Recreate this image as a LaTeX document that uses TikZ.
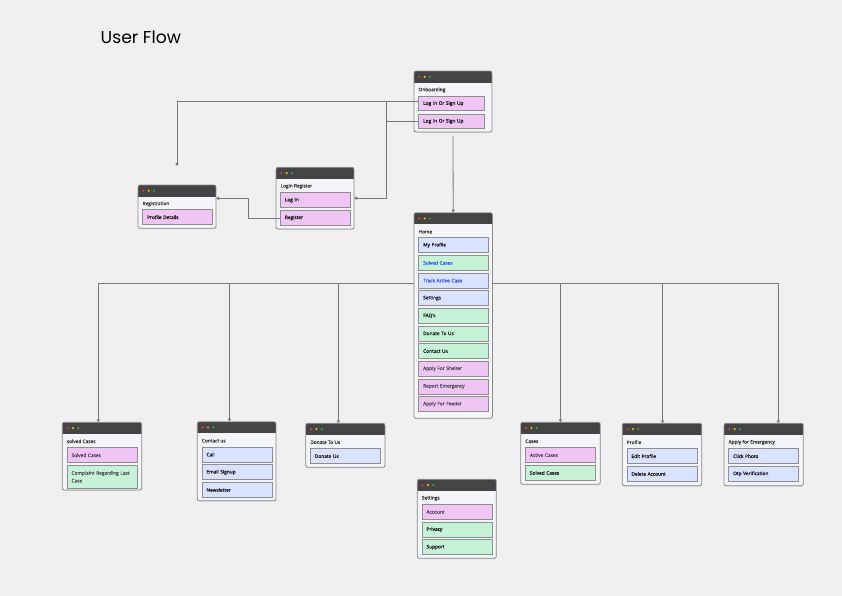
\documentclass[tikz,border=0pt]{standalone}
\usepackage{fontspec}
\setmainfont{Open Sans}
\newfontfamily\headfont{Poppins}
\newfontfamily\lightfont[FakeBold=0.25]{Open Sans}
\newfontfamily\medfont[FakeBold=0.5]{Open Sans}
\newfontfamily\semifont[FakeBold=1.3]{Open Sans}
\usetikzlibrary{arrows.meta,shadows}

\definecolor{canvas}{HTML}{F0F0F0}
\definecolor{winfill}{HTML}{F4F5F8}
\definecolor{winedge}{HTML}{8A8A8A}
\definecolor{hdrcol}{HTML}{444444}
\definecolor{dotred}{HTML}{E5383B}
\definecolor{dotyel}{HTML}{F2B705}
\definecolor{dotgrn}{HTML}{2EA84E}
\definecolor{itemedge}{HTML}{8E8E8E}
\definecolor{fillpu}{HTML}{EFC5F4}
\definecolor{fillgr}{HTML}{C6F3D7}
\definecolor{fillbl}{HTML}{D9E2FE}
\definecolor{txtdark}{HTML}{1C1C1C}
\definecolor{txttitle}{HTML}{333333}
\definecolor{txtblue}{HTML}{3653EC}
\definecolor{txtgray}{HTML}{4F4858}
\definecolor{wirecol}{HTML}{777777}

\tikzset{
  winbody/.style={anchor=north west, fill=winfill, inner sep=0pt, outer sep=0pt,
    rounded corners=2pt, drop shadow={shadow xshift=0pt, shadow yshift=-0.9pt, opacity=0.22}},
  winframe/.style={draw=winedge, line width=0.8pt, rounded corners=2pt},
  wintitle/.style={anchor=west, inner sep=0pt, text=txttitle,
    font=\medfont\fontsize{4.8}{5.5}\selectfont},
  item/.style={anchor=north west, draw=itemedge, line width=0.8pt, minimum height=15pt,
    text width=61pt, inner xsep=4.5pt, inner ysep=0pt, align=left,
    font=\medfont\fontsize{4.8}{7.7}\selectfont},
  narrow/.style={text width=57pt, minimum height=14.5pt},
  pu/.style={fill=fillpu}, gr/.style={fill=fillgr}, bl/.style={fill=fillbl},
  tb/.style={text=txtdark, font=\semifont\fontsize{4.8}{7.7}\selectfont},
  tm/.style={text=txtdark},
  tblue/.style={text=txtblue, font=\lightfont\fontsize{4.8}{7.7}\selectfont},
  tgray/.style={text=txtgray, font=\lightfont\fontsize{4.8}{7.7}\selectfont},
  wire/.style={draw=wirecol, line width=0.8pt},
  conn/.style={wire, -{Triangle[length=3pt,width=3.2pt]}},
}

% window: name, x, y, width, height, title
\newcommand\uiwin[6]{%
  \node[winbody, minimum width=#4pt, minimum height=#5pt] (#1) at (#2,#3) {};
  \begin{scope}
    \clip[rounded corners=2pt] (#1.north west) rectangle (#1.south east);
    \fill[hdrcol] (#1.north west) rectangle ([yshift=-11.6pt]#1.north east);
  \end{scope}
  \draw[winframe] (#1.north west) rectangle (#1.south east);
  \fill[dotred] ([xshift=5.3pt,yshift=-5.8pt]#1.north west) circle (1.2pt);
  \fill[dotyel] ([xshift=10.7pt,yshift=-5.8pt]#1.north west) circle (1.2pt);
  \fill[dotgrn] ([xshift=16pt,yshift=-5.8pt]#1.north west) circle (1.2pt);
  \node[wintitle] (#1-t) at ([xshift=4.4pt,yshift=-19pt]#1.north west) {#6};
}
% item: name, x, y, styles, text
\newcommand\uiitem[5]{\node[item,#4] (#1) at (#2,#3) {#5};}

\begin{document}
\begin{tikzpicture}[x=1pt,y=-1pt]
\useasboundingbox (0,0) rectangle (842,596);
\fill[canvas] (0,0) rectangle (842,596);

\node[anchor=west, inner sep=0pt, text=black, font=\headfont\fontsize{17.2}{20}\selectfont] (ttl) at (100.5,37) {User Flow};

% onboarding
\uiwin{onb}{414}{71}{78}{61}{Onboarding}
\uiitem{o1}{418.3}{96}{narrow,pu,tb}{Log In Or Sign Up}
\uiitem{o2}{418.3}{113.7}{narrow,pu,tb}{Log In Or Sign Up}

% login / register
\uiwin{login}{276}{167.3}{78}{61.7}{Login Register}
\uiitem{l1}{280}{192.3}{pu,tb}{Log In}
\uiitem{l2}{280}{210}{pu,tb}{Register}

\uiwin{reg}{138}{185}{78}{43.3}{Registration}
\uiitem{r1}{142.3}{209.3}{pu,tb}{Profile Details}

% home
\uiwin{home}{414}{212.7}{78.4}{205.6}{Home}
\uiitem{h0}{418.3}{237.3}{bl,tm}{My Profile}
\uiitem{h1}{418.3}{254.95}{gr,tblue}{Solved Cases}
\uiitem{h2}{418.3}{272.6}{bl,tblue}{Track Active Case}
\uiitem{h3}{418.3}{290.25}{bl,tm}{Settings}
\uiitem{h4}{418.3}{307.9}{gr,tm}{FAQ's}
\uiitem{h5}{418.3}{325.55}{gr,tm}{Donate To Us}
\uiitem{h6}{418.3}{343.2}{gr,tm}{Contact Us}
\uiitem{h7}{418.3}{360.85}{pu,tgray}{Apply For Shelter}
\uiitem{h8}{418.3}{378.5}{pu,tgray}{Report Emergency}
\uiitem{h9}{418.3}{396.15}{pu,tgray}{Apply For Feeder}

% lower row
\uiwin{solved}{62.3}{422.3}{79.4}{67.7}{solved Cases}
\uiitem{s1}{66.6}{447.3}{pu,tgray}{Solved Cases}
\uiitem{s2}{66.6}{465}{gr,tgray,minimum height=22.7pt}{Complaint Regarding Last Case}

\uiwin{contact}{197.3}{421.7}{78.7}{79}{Contact us}
\uiitem{c1}{201.6}{446.7}{bl,tb}{Call}
\uiitem{c2}{201.6}{464.3}{bl,tb}{Email Signup}
\uiitem{c3}{201.6}{482}{bl,tb}{Newsletter}

\uiwin{donate}{305.7}{423.3}{79.3}{44}{Donate To Us}
\uiitem{d1}{310}{448.3}{bl,tm}{Donate Us}

\uiwin{settings}{417.3}{479.3}{79}{79}{Settings}
\uiitem{t1}{421.6}{504}{pu,tgray}{Account}
\uiitem{t2}{421.6}{521.7}{gr,tb}{Privacy}
\uiitem{t3}{421.6}{539.3}{gr,tb}{Support}

\uiwin{cases}{520.7}{422.3}{79.6}{62}{Cases}
\uiitem{k1}{525}{447.3}{pu,tgray}{Active Cases}
\uiitem{k2}{525}{465}{gr,tm}{Solved Cases}

\uiwin{profile}{622.3}{423.3}{79.4}{62.4}{Profile}
\uiitem{p1}{626.6}{448.3}{bl,tb}{Edit Profile}
\uiitem{p2}{626.6}{466}{bl,tb}{Delete Account}

\uiwin{emerg}{724}{423.3}{79.3}{62.4}{Apply for Emergency}
\uiitem{e1}{728.3}{448.3}{bl,tb}{Click Photo}
\uiitem{e2}{728.3}{466}{bl,tb}{Otp Verification}

% routing points
\coordinate (regin) at (177,166);
\coordinate (bx) at (386.7,0);
\coordinate (rj) at (248.3,198.3);
\coordinate (bus) at (0,283.3);

% upper connectors
\draw[conn] ([yshift=2pt]o1.west) -| (regin);
\draw[conn] ([yshift=2pt]o1.west) -| (bx |- login.east) -- (login.east);
\draw[wire] (o2.west) -- (o2.west -| bx);
\draw[conn] ([yshift=-4pt]onb.south) -- (home.north);
\draw[conn] (l2.west) -| (rj) -- (rj -| reg.east);

% home to the lower row
\draw[conn] (home.west |- bus) -| ([xshift=-3.6pt]solved.north);
\draw[conn] (home.west |- bus) -| ([xshift=-7.2pt]contact.north);
\draw[conn] (home.west |- bus) -| ([xshift=-7pt]donate.north);
\draw[conn] (home.east |- bus) -| ([xshift=0pt]cases.north);
\draw[conn] (home.east |- bus) -| ([xshift=0.6pt]profile.north);
\draw[conn] (home.east |- bus) -| ([xshift=14.6pt]emerg.north);
\end{tikzpicture}
\end{document}
